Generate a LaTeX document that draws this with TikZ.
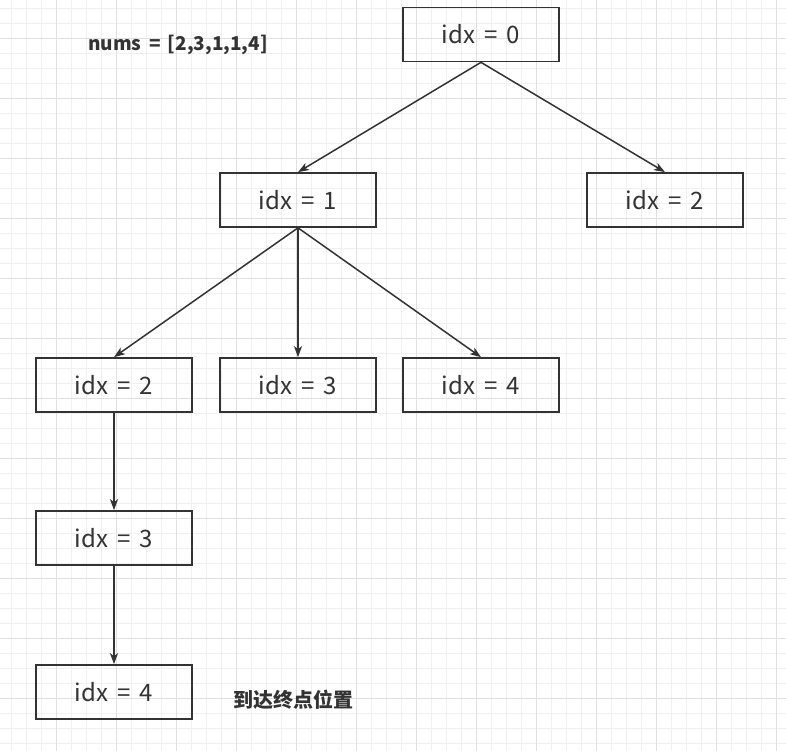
\documentclass[tikz,border=0pt]{standalone}
\usepackage{fontspec}
\setmainfont{Noto Sans CJK SC}[WordSpace=1.7]
\usetikzlibrary{arrows.meta}
\definecolor{ink}{HTML}{333333}
\definecolor{gridminor}{HTML}{F0F0F0}
\definecolor{gridmajor}{HTML}{E0E0E0}
\tikzset{b/.style={rectangle,draw=ink,line width=1.7pt,minimum width=156pt,minimum height=54pt,inner sep=0pt,text=ink,font=\fontsize{24}{28}\selectfont}}
\tikzset{a/.style={draw=ink,line width=1.5pt,-{Stealth[length=11pt,width=8pt,inset=3pt]}}}
\tikzset{t/.style={text=ink,inner sep=0pt,font=\bfseries\fontsize{19}{22}\selectfont}}

\begin{document}
\begin{tikzpicture}[x=1pt,y=-1pt]
  \useasboundingbox (0,0) rectangle (786,751);
  \fill[white] (0,0) rectangle (786,751);
  % grid
  \foreach \x in {11.7,26.7,...,786} \draw[gridminor,line width=0.8pt] (\x,0) -- (\x,751);
  \foreach \y in {8.3,23.3,...,751} \draw[gridminor,line width=0.8pt] (0,\y) -- (786,\y);
  \foreach \x in {56.7,116.7,...,786} \draw[gridmajor,line width=0.8pt] (\x,0) -- (\x,751);
  \foreach \y in {38.3,98.3,...,751} \draw[gridmajor,line width=0.8pt] (0,\y) -- (786,\y);
  % tree
  \node[t] (nums) at (178,45) {nums = [2,3,1,1,4]};
  \node[b] (N0) at (481,34.5) {idx = 0};
  \node[b] (N1) at (298,200) {idx = 1};
  \node[b] (N2r) at (665,200) {idx = 2};
  \node[b] (N2) at (114,385) {idx = 2};
  \node[b] (N3) at (298,385) {idx = 3};
  \node[b] (N4) at (481,385) {idx = 4};
  \node[b] (N3b) at (114,538) {idx = 3};
  \node[b] (N4b) at (114,692) {idx = 4};
  \node[t,font=\bfseries\fontsize{20}{24}\selectfont] (end) at (293,700) {到达终点位置};
  \draw[a] (N0.south) -- (N1.north);
  \draw[a] (N0.south) -- (N2r.north);
  \draw[a] (N1.south) -- (N2.north);
  \draw[a] (N1.south) -- (N3.north);
  \draw[a] (N1.south) -- (N4.north);
  \draw[a] (N2.south) -- (N3b.north);
  \draw[a] (N3b.south) -- (N4b.north);
\end{tikzpicture}
\end{document}
